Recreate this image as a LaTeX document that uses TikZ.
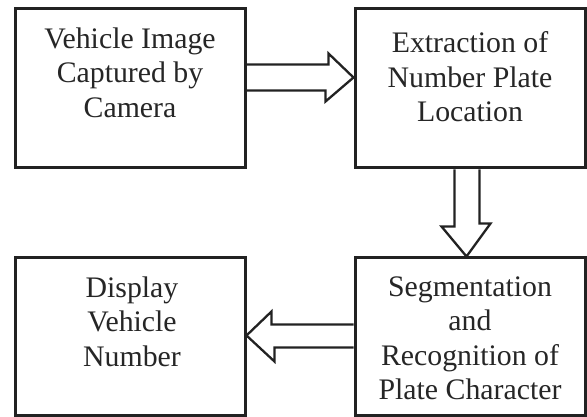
\documentclass[tikz,border=0pt]{standalone}
\usepackage{fontspec}
\setmainfont{Liberation Serif}
\usetikzlibrary{calc}
\definecolor{linec}{HTML}{222222}
\definecolor{textc}{HTML}{262626}
\begin{document}
\begin{tikzpicture}[x=1pt,y=-1pt,
  box/.style={draw=linec, line width=3pt, inner sep=0pt, minimum width=230pt},
  lbl/.style={anchor=north, align=center, inner sep=0pt, text=textc,
    font=\fontsize{29.8}{34.5}\selectfont},
  arrowline/.style={draw=linec, line width=2.3pt, line join=miter}]
\useasboundingbox[fill=white] (0,0) rectangle (587,417);
\node[box, minimum height=159pt] (A) at (130,88.5) {};
\node[box, minimum height=159pt] (B) at (470,88.5) {};
\node[box, minimum height=157pt] (C) at (130,336.5) {};
\node[box, minimum height=157pt] (D) at (470,336.5) {};
\node[lbl] (tA) at ($(A.north)+(0,20)$) {Vehicle Image\\Captured by\\Camera};
\node[lbl] (tB) at ($(B.north)+(0,24)$) {Extraction of\\Number Plate\\Location};
\node[lbl] (tC) at ($(C.north)+(2,20)$) {Display\\Vehicle\\Number};
\node[lbl] (tD) at ($(D.north)+(0,20)$) {Segmentation\\and\\Recognition of\\Plate Character};
% A -> B
\draw[arrowline] ($(A.north east)+(0,57)$) -- ++(82,0) -- ++(0,-11)
  -- ($(B.north west)+(0,70)$) -- ++(-28,24) -- ++(0,-11)
  -- ($(A.north east)+(0,83)$);
% B -> D
\draw[arrowline] ($(B.south west)+(101,0)$) -- ++(0,57) -- ++(-13,0)
  -- ($(D.north west)+(113,0)$) -- ++(24,-33) -- ++(-11,0)
  -- ($(B.south west)+(126,0)$);
% D -> C
\draw[arrowline] ($(D.north west)+(0,68)$) -- ++(-82,0) -- ++(0,-13)
  -- ($(C.north east)+(0,79)$) -- ++(28,26) -- ++(0,-14)
  -- ($(D.north west)+(0,91)$);
\end{tikzpicture}
\end{document}
